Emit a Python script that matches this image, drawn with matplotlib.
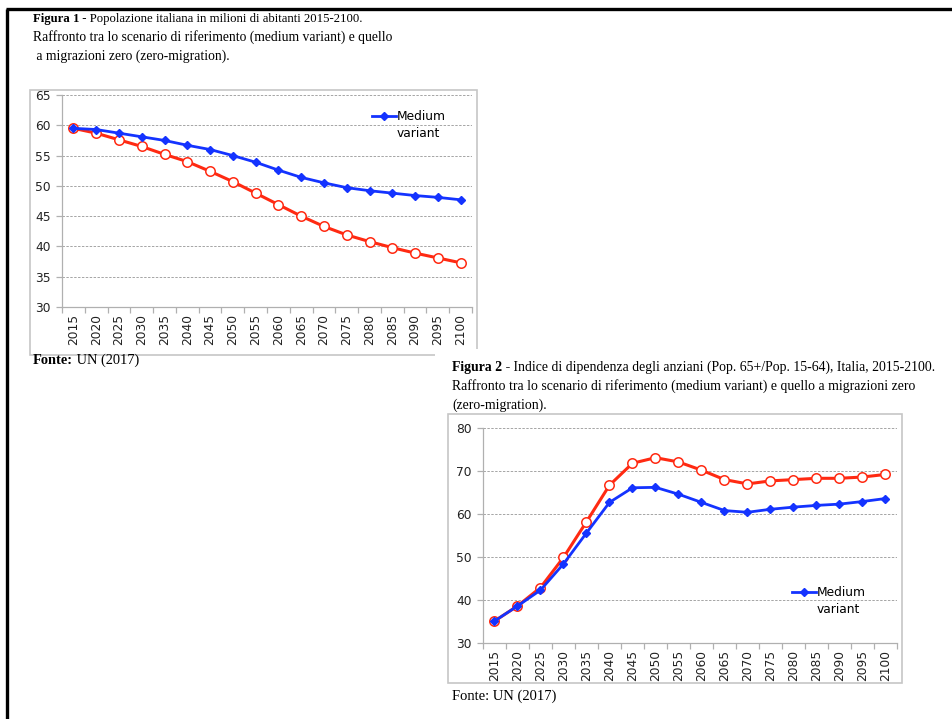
import matplotlib
matplotlib.use("Agg")
import matplotlib.pyplot as plt
from matplotlib.patches import Rectangle
from matplotlib.lines import Line2D

# ---------------- data ----------------
years = ["2015", "2020", "2025", "2030", "2035", "2040", "2045", "2050", "2055",
         "2060", "2065", "2070", "2075", "2080", "2085", "2090", "2095", "2100"]

pop_medium = [59.5, 59.3, 58.7, 58.1, 57.5, 56.7, 56.0, 55.0, 53.9,
              52.6, 51.4, 50.5, 49.7, 49.2, 48.8, 48.4, 48.1, 47.7]
pop_zero = [59.5, 58.7, 57.6, 56.5, 55.2, 54.0, 52.4, 50.7, 48.8,
            46.9, 45.0, 43.3, 41.9, 40.8, 39.8, 38.9, 38.1, 37.3]

dep_medium = [35.1, 38.6, 42.3, 48.4, 55.6, 62.7, 66.1, 66.2, 64.6,
              62.7, 60.8, 60.4, 61.1, 61.6, 62.0, 62.3, 62.9, 63.6]
dep_zero = [35.1, 38.6, 42.9, 49.9, 58.2, 66.7, 71.8, 73.1, 72.1,
            70.2, 68.0, 67.0, 67.7, 68.0, 68.3, 68.3, 68.6, 69.2]

yticks1 = [30, 35, 40, 45, 50, 55, 60, 65]
yticks2 = [30, 40, 50, 60, 70, 80]

legend_line1 = "Medium"
legend_line2 = "variant"

# ---------------- layout ----------------
W, H = 953, 719
fig = plt.figure(figsize=(W / 100, H / 100), dpi=100)
fig.patch.set_facecolor("white")

def fbox(x0, y0, x1, y1):
    return [x0 / W, 1 - y1 / H, (x1 - x0) / W, (y1 - y0) / H]

BLUE = "#1433ff"
RED = "#ff2a12"
GRID = "#a5a5a5"
AX = "#b0b0b0"
SANS = "DejaVu Sans"
SERIF = "Liberation Serif"
TFS = 8.8

# page border
fig.add_artist(Line2D([7 / W, 7 / W], [0, 1 - 9 / H], transform=fig.transFigure,
                      color="black", lw=2.4, solid_capstyle="butt"))
fig.add_artist(Line2D([6 / W, 1], [1 - 9 / H, 1 - 9 / H], transform=fig.transFigure,
                      color="black", lw=2.4, solid_capstyle="butt"))

# chart frames
fig.add_artist(Rectangle((30 / W, 1 - 355 / H), 447 / W, 265 / H, transform=fig.transFigure,
                         facecolor="none", edgecolor="#c6c6c6", lw=1.2))
fig.add_artist(Rectangle((435 / W, 1 - 412 / H), 60 / W, 63 / H, transform=fig.transFigure,
                         facecolor="white", edgecolor="none", zorder=1.5))
fig.add_artist(Rectangle((448 / W, 1 - 683 / H), 454 / W, 269 / H, transform=fig.transFigure,
                         facecolor="none", edgecolor="#c6c6c6", lw=1.2))


def style_axes(ax, yticks, ymin, ymax):
    x = list(range(len(years)))
    ax.set_xlim(-0.5, len(years) - 0.5)
    ax.set_ylim(ymin, ymax)
    ax.set_yticks(yticks)
    ax.set_yticklabels([str(v) for v in yticks], fontsize=TFS, color="#222222", family=SANS)
    ax.set_xticks(x)
    ax.set_xticklabels(years, rotation=90, fontsize=TFS, color="#222222", family=SANS)
    ax.set_xticks([i - 0.5 for i in range(len(years) + 1)], minor=True)
    ax.tick_params(axis="x", which="major", length=0, pad=5)
    ax.tick_params(axis="x", which="minor", length=4, color=AX, width=0.9)
    ax.tick_params(axis="y", which="major", length=4, color=AX, width=0.9, pad=4)
    for s in ["top", "right"]:
        ax.spines[s].set_visible(False)
    for s in ["left", "bottom"]:
        ax.spines[s].set_color(AX)
        ax.spines[s].set_linewidth(0.9)
    ax.yaxis.grid(True, linestyle=(0, (2.5, 1.5)), color=GRID, lw=0.7)
    ax.set_axisbelow(True)
    ax.set_facecolor("white")


def plot_series(ax, medium, zero):
    x = list(range(len(years)))
    ax.plot(x, zero, color=RED, lw=2.2, marker="o", markersize=6.8,
            markerfacecolor="white", markeredgecolor=RED, markeredgewidth=1.1, zorder=3)
    ax.plot(x, medium, color=BLUE, lw=2.0, marker="D", markersize=4,
            markerfacecolor=BLUE, markeredgecolor=BLUE, label=legend_line1, zorder=4)


def add_legend(ax, ax_box, x_px, y_px):
    x0, y0, x1, y1 = ax_box
    leg = ax.legend(loc="upper left",
                    bbox_to_anchor=((x_px - x0) / (x1 - x0), 1 - (y_px - y0) / (y1 - y0)),
                    frameon=False, handlelength=2.0, handletextpad=0.0,
                    borderpad=0, borderaxespad=0, prop={"family": SANS, "size": TFS})
    return leg


# ---- chart 1 ----
box1 = (62, 95, 472, 307)
ax1 = fig.add_axes(fbox(*box1))
style_axes(ax1, yticks1, 30, 65)
plot_series(ax1, pop_medium, pop_zero)
leg1 = add_legend(ax1, box1, 372, 110)

# ---- chart 2 ----
box2 = (483, 428, 897, 643)
ax2 = fig.add_axes(fbox(*box2))
style_axes(ax2, yticks2, 30, 80)
plot_series(ax2, dep_medium, dep_zero)
leg2 = add_legend(ax2, box2, 792, 586)

# ---------------- captions ----------------
fig.canvas.draw()
renderer = fig.canvas.get_renderer()

for leg in (leg1, leg2):
    tb = leg.get_texts()[0].get_window_extent(renderer)
    fig.text(tb.x0 / W, (tb.y0 - 17) / H, legend_line2, fontsize=TFS, family=SANS,
             ha="left", va="bottom", color="black")


def rich(x, y, parts, fs):
    cur = x / W
    for txt, bold in parts:
        t = fig.text(cur, 1 - y / H, txt, fontsize=fs, family=SERIF,
                     weight="bold" if bold else "normal", va="center", ha="left", color="black")
        bb = t.get_window_extent(renderer)
        cur = bb.x1 / W


rich(33, 19, [("Figura 1", True), (" - Popolazione italiana in milioni di abitanti 2015-2100.", False)], 9.2)
rich(33, 37, [("Raffronto tra lo scenario di riferimento (medium variant) e quello", False)], 9.8)
rich(33, 56, [(" a migrazioni zero (zero-migration).", False)], 9.8)
rich(33, 360, [("Fonte:", True), (" UN (2017)", False)], 10.4)

rich(452, 367, [("Figura 2 -", True), (" Indice di dipendenza degli anziani (Pop. 65+/Pop. 15-64), Italia, 2015-2100.", False)], 9.9)
rich(452, 386, [("Raffronto tra lo scenario di riferimento (medium variant) e quello a migrazioni zero", False)], 9.9)
rich(452, 405, [("(zero-migration).", False)], 9.9)
rich(452, 696, [("Fonte: UN (2017)", False)], 10.5)

fig.savefig("out.png", dpi=100)
